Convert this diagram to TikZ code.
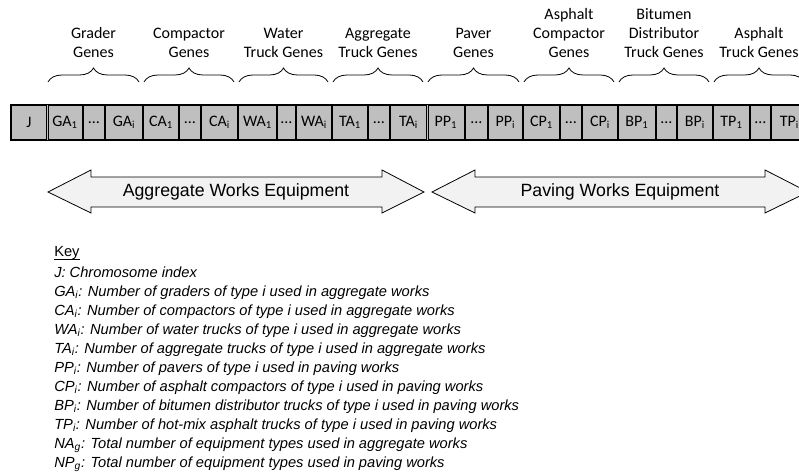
\documentclass[tikz,border=0pt]{standalone}
\usepackage{fontspec}
\setmainfont{Carlito}
\newfontfamily\arialfont{Liberation Sans}
\usetikzlibrary{decorations.pathreplacing}
\definecolor{genegray}{RGB}{191,191,191}
\definecolor{arrowgray}{RGB}{242,242,242}
\begin{document}
\begin{tikzpicture}[x=0.75pt,y=-0.75pt,
  gene/.style={draw,line width=1.1pt,fill=genegray,inner sep=0pt,outer sep=0pt,
    minimum height=26.25pt,font=\fontsize{12}{14.25}\selectfont},
  gbrace/.style={decorate,decoration={brace,amplitude=10.5pt},line width=0.6pt},
  glabel/.style={midway,above=18pt,inner sep=0pt,align=center,
    font=\fontsize{12}{14.25}\selectfont},
  works/.style={draw,line width=0.6pt,fill=arrowgray},
  workslabel/.style={inner sep=0pt,font=\arialfont\fontsize{13.3}{16}\selectfont},
  keyhead/.style={inner sep=0pt,anchor=base west,font=\arialfont\fontsize{11}{14.25}\selectfont},
  keytext/.style={inner sep=0pt,align=left,anchor=north west,
    font=\arialfont\itshape\fontsize{11}{14.25}\selectfont}]
\clip (0,0) rectangle (799,473);
% chromosome
\foreach \a/\b/\t/\n in {11/47/J/j,
  47/83/GA\textsubscript{1}/ga1, 83/105/…/gad, 105/143/GA\textsubscript{i}/gai,
  143/179/CA\textsubscript{1}/ca1, 179/201/…/cad, 201/238/CA\textsubscript{i}/cai,
  238/277/WA\textsubscript{1}/wa1, 277/296/…/wad, 296/332/WA\textsubscript{i}/wai,
  332/368/TA\textsubscript{1}/ta1, 368/390/…/tad, 390/427/TA\textsubscript{i}/tai,
  427/465/PP\textsubscript{1}/pp1, 465/488/…/ppd, 488/523/PP\textsubscript{i}/ppi,
  523/560/CP\textsubscript{1}/cp1, 560/582/…/cpd, 582/618/CP\textsubscript{i}/cpi,
  618/656/BP\textsubscript{1}/bp1, 656/677/…/bpd, 677/713/BP\textsubscript{i}/bpi,
  713/750/TP\textsubscript{1}/tp1, 750/771/…/tpd, 771/808/TP\textsubscript{i}/tpi}
{
\node[gene,minimum width=(\b-\a)*0.75pt] (\n) at ({(\a+\b)/2},122.5) {\t};
}
\draw[line width=0.75pt,double=genegray,double distance=0.75pt] (j.north east) -- (j.south east);
\draw[line width=0.75pt,double=genegray,double distance=0.75pt] (tai.north east) -- (tai.south east);
% gene groups
\foreach \f/\l/\txt in {ga1/gai/{Grader\\Genes}, ca1/cai/{Compactor\\Genes},
  wa1/wai/{Water\\Truck Genes}, ta1/tai/{Aggregate\\Truck Genes},
  pp1/ppi/{Paver\\Genes}, cp1/cpi/{Asphalt\\Compactor\\Genes},
  bp1/bpi/{Bitumen\\Distributor\\Truck Genes}, tp1/tpi/{Asphalt\\Truck Genes}}
{
\draw[gbrace] ([shift={(1,-23)}]\f.north west) -- ([shift={(-4,-23)}]\l.north east)
  node[glabel] {\txt};
}
% works arrows
\draw[works] (48,192) -- (91,170) -- (91,177) -- (382,177) -- (382,170) -- (424,192)
  -- (382,213) -- (382,207) -- (91,207) -- (91,213) -- cycle;
\node[workslabel] (aggr) at (236,192) {Aggregate Works Equipment};
\draw[works] (432,192) -- (475,170) -- (475,177) -- (765,177) -- (765,170) -- (808,192)
  -- (765,213) -- (765,207) -- (475,207) -- (475,213) -- cycle;
\node[workslabel] (pave) at (620,192) {Paving Works Equipment};
% key
\node[keyhead] (keytitle) at (54,257) {Key};
\draw[line width=0.5pt] ([yshift=-1.6pt]keytitle.base west) -- ([yshift=-1.6pt]keytitle.base east);
\node[keytext] (key) at (54,266.5) {J: Chromosome index\\
  GA\textsubscript{i}: Number of graders of type i used in aggregate works\\
  CA\textsubscript{i}: Number of compactors of type i used in aggregate works\\
  WA\textsubscript{i}: Number of water trucks of type i used in aggregate works\\
  TA\textsubscript{i}: Number of aggregate trucks of type i used in aggregate works\\
  PP\textsubscript{i}: Number of pavers of type i used in paving works\\
  CP\textsubscript{i}: Number of asphalt compactors of type i used in paving works\\
  BP\textsubscript{i}: Number of bitumen distributor trucks of type i used in paving works\\
  TP\textsubscript{i}: Number of hot-mix asphalt trucks of type i used in paving works\\
  NA\textsubscript{g}: Total number of equipment types used in aggregate works\\
  NP\textsubscript{g}: Total number of equipment types used in paving works};
\end{tikzpicture}
\end{document}
